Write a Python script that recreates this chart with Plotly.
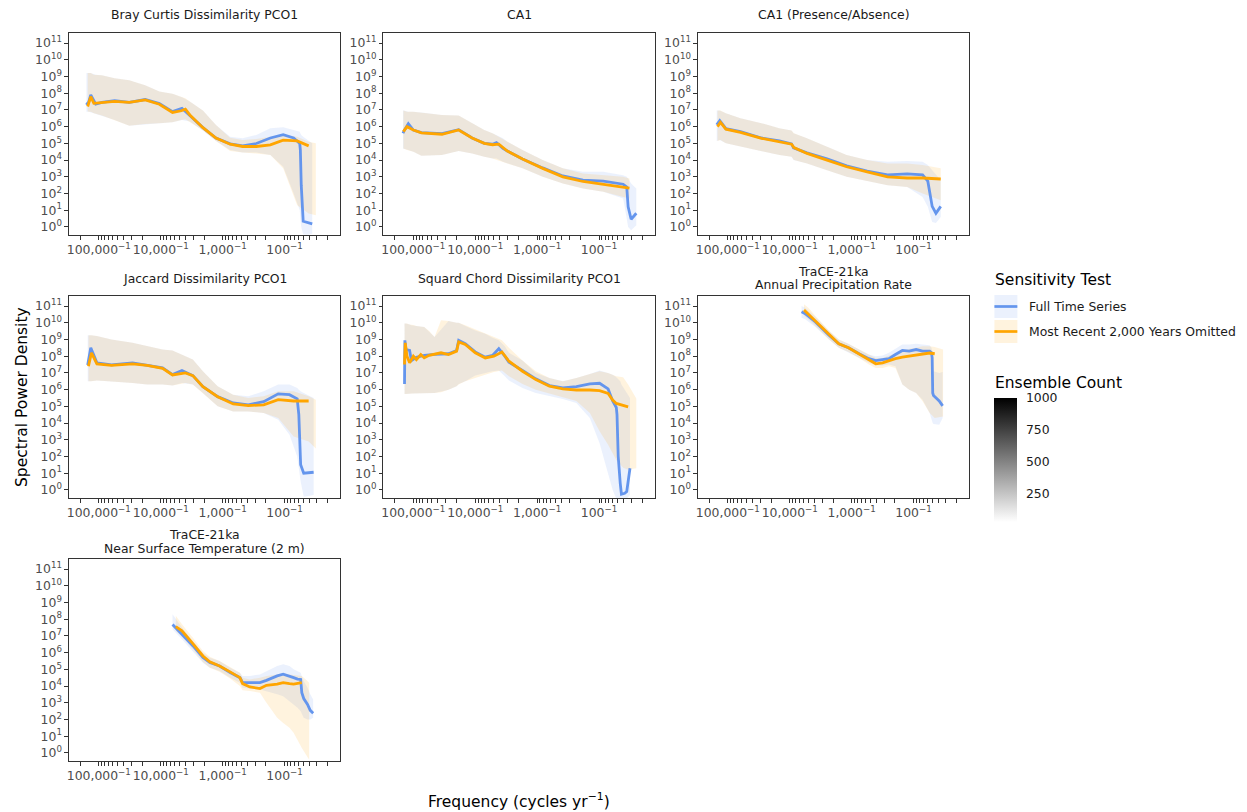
import plotly.graph_objects as go

# ---------------- data (frequency in cycles/yr, power spectral density) ----------------
# Panel 1: Bray Curtis Dissimilarity PCO1
BC_FULL_F = [6.3e-6, 6.9e-6, 7.4e-6, 8.9e-6, 1.12e-5, 1.8e-5, 3.1e-5, 5.6e-5, 9.5e-5, 1.55e-4, 2.2e-4, 2.95e-4, 4.8e-4, 7.8e-4, 1.32e-3, 2.1e-3, 3.5e-3, 5.9e-3, 9.5e-3, 1.4e-2, 1.76e-2, 1.8e-2, 1.86e-2, 2.0e-2, 2.4e-2, 2.8e-2]
BC_FULL_P = [2.0e7, 3.2e7, 7.9e7, 2.2e7, 2.8e7, 3.6e7, 2.8e7, 4.2e7, 2.4e7, 7.9e6, 1.26e7, 4.6e6, 8.7e5, 2.1e5, 9.3e4, 7.1e4, 9.8e4, 2.1e5, 3.3e5, 2.1e5, 9.8e4, 4.0e4, 316, 2.2, 1.8, 1.55]
BC_FULL_LO = [7.9e6, 7.9e6, 7.9e6, 6.3e6, 4.6e6, 2.5e6, 1.15e6, 1.45e6, 1.6e6, 1.8e6, 2.5e6, 2.0e6, 5.8e5, 1.4e5, 4.0e4, 2.8e4, 2.8e4, 2.0e4, 4.0e3, 100, 10, 3.2, 1.0, 0.35, 0.34, 0.4]
BC_FULL_HI = [1.6e9, 1.6e9, 1.6e9, 1.26e9, 1.2e9, 7.9e8, 5.9e8, 3.0e8, 1.26e8, 9.3e7, 5.8e7, 3.2e7, 9.1e6, 1.26e6, 2.5e5, 2.0e5, 3.2e5, 7.9e5, 9.1e5, 6.3e5, 5.0e5, 4.0e5, 3.2e5, 2.5e5, 1.6e5, 1.0e5]
BC_OMIT_F = [6.6e-6, 7.4e-6, 8.3e-6, 1.12e-5, 1.8e-5, 3.1e-5, 5.6e-5, 9.5e-5, 1.55e-4, 2.15e-4, 2.5e-4, 2.95e-4, 4.8e-4, 7.8e-4, 1.32e-3, 2.1e-3, 3.5e-3, 5.9e-3, 9.5e-3, 1.6e-2, 2.45e-2, 3.2e-2]
BC_OMIT_P = [1.6e7, 6.3e7, 2.5e7, 2.8e7, 3.2e7, 2.8e7, 4.0e7, 2.2e7, 7.1e6, 8.9e6, 1.12e7, 5.0e6, 8.7e5, 2.1e5, 8.9e4, 6.5e4, 6.5e4, 8.1e4, 1.55e5, 1.4e5, 7.1e4, None]
BC_OMIT_LO = [7.9e6, 7.9e6, 6.3e6, 4.6e6, 2.5e6, 1.15e6, 1.45e6, 1.6e6, 1.8e6, 2.5e6, 2.8e6, 2.0e6, 5.8e5, 1.4e5, 3.5e4, 2.8e4, 2.5e4, 2.0e4, 3.2e3, 20, 6.3, 5.0]
BC_OMIT_HI = [1.6e9, 1.6e9, 1.26e9, 1.2e9, 7.9e8, 5.9e8, 3.0e8, 1.26e8, 9.3e7, 6.3e7, 5.0e7, 3.2e7, 9.1e6, 1.26e6, 2.2e5, 1.6e5, 1.8e5, 2.5e5, 3.2e5, 2.5e5, 1.26e5, 1.0e5]

# Panel 2: CA1
CA1_FULL_F = [6.8e-6, 7.1e-6, 8.3e-6, 1.0e-5, 1.35e-5, 2.9e-5, 5.4e-5, 8.9e-5, 1.4e-4, 1.9e-4, 2.2e-4, 2.8e-4, 3.3e-4, 5.8e-4, 1.23e-3, 2.6e-3, 5.5e-3, 1.17e-2, 2.45e-2, 2.8e-2, 2.95e-2, 3.3e-2, 4.0e-2]
CA1_FULL_P = [4.0e5, 5.8e5, 1.5e6, 6.3e5, 4.4e5, 3.8e5, 6.6e5, 2.1e5, 1.0e5, 8.9e4, 1.12e5, 5.0e4, 3.5e4, 1.17e4, 3.4e3, 1.12e3, 630, 550, 360, 250, 16, 2.9, 6.6]
CA1_FULL_LO = [5.0e4, 4.7e4, 4.0e4, 3.2e4, 1.8e4, 2.0e4, 3.5e4, 2.5e4, 1.6e4, 1.26e4, 1.26e4, 7.9e3, 6.3e3, 3.2e3, 1.0e3, 400, 200, 126, 50, 3.2, 1.0, 0.63, 1.26]
CA1_FULL_HI = [9.1e6, 9.1e6, 7.9e6, 7.9e6, 6.9e6, 5.0e6, 4.6e6, 1.6e6, 6.3e5, 4.0e5, 3.2e5, 2.0e5, 1.26e5, 4.0e4, 1.0e4, 3.2e3, 2.0e3, 2.0e3, 1.26e3, 1.0e3, 790, 400, 200]
CA1_OMIT_F = [6.9e-6, 7.9e-6, 1.0e-5, 1.35e-5, 2.9e-5, 5.4e-5, 8.9e-5, 1.4e-4, 1.9e-4, 2.4e-4, 3.3e-4, 5.8e-4, 1.23e-3, 2.6e-3, 5.5e-3, 1.17e-2, 2.45e-2, 3.1e-2]
CA1_OMIT_P = [5.0e5, 1.0e6, 6.3e5, 4.2e5, 3.5e5, 6.3e5, 2.1e5, 1.0e5, 8.3e4, 8.9e4, 3.5e4, 1.17e4, 3.2e3, 1.0e3, 525, 363, 240, 210]
CA1_OMIT_LO = [5.0e4, 4.0e4, 3.2e4, 1.8e4, 2.0e4, 3.5e4, 2.5e4, 1.6e4, 1.26e4, 1.0e4, 6.3e3, 3.2e3, 1.0e3, 400, 200, 126, 63, 50]
CA1_OMIT_HI = [9.1e6, 7.9e6, 7.9e6, 6.9e6, 5.0e6, 4.6e6, 1.6e6, 6.3e5, 4.0e5, 2.5e5, 1.26e5, 4.0e4, 1.0e4, 3.2e3, 1.6e3, 1.26e3, 1.0e3, 790]

# Panel 3: CA1 (Presence/Absence)
CAPA_FULL_F = [6.6e-6, 7.4e-6, 9.3e-6, 1.6e-5, 3.5e-5, 6.8e-5, 1.07e-4, 1.15e-4, 1.9e-4, 4.0e-4, 8.3e-4, 1.78e-3, 3.8e-3, 7.9e-3, 1.4e-2, 1.7e-2, 2.0e-2, 2.3e-2, 2.75e-2]
CAPA_FULL_P = [1.3e6, 2.3e6, 7.6e5, 5.0e5, 2.1e5, 1.4e5, 9.3e4, 5.4e4, 2.7e4, 1.17e4, 4.5e3, 2.2e3, 1.3e3, 1.5e3, 1.3e3, 550, 17, 6.6, 17]
CAPA_FULL_LO = [1.4e5, 1.6e5, 1.0e5, 6.3e4, 3.5e4, 2.0e4, 1.6e4, 1.0e4, 6.3e3, 2.5e3, 1.0e3, 550, 316, 250, 63, 16, 2.0, 1.7, 4.0]
CAPA_FULL_HI = [9.1e6, 9.1e6, 6.3e6, 3.2e6, 1.6e6, 7.9e5, 5.8e5, 4.0e5, 2.0e5, 6.3e4, 2.0e4, 1.0e4, 7.9e3, 8.9e3, 7.9e3, 5.0e3, 2.5e3, 1.26e3, 630]
CAPA_OMIT_F = [6.8e-6, 7.6e-6, 9.3e-6, 1.6e-5, 3.5e-5, 6.8e-5, 1.07e-4, 1.17e-4, 1.9e-4, 4.0e-4, 8.3e-4, 1.78e-3, 3.8e-3, 7.9e-3, 1.4e-2, 2.75e-2]
CAPA_OMIT_P = [1.0e6, 1.8e6, 7.1e5, 4.5e5, 2.0e5, 1.3e5, 8.9e4, 5.6e4, 2.5e4, 1.0e4, 4.0e3, 2.0e3, 1.0e3, 850, 850, 740]
CAPA_OMIT_LO = [1.4e5, 1.6e5, 1.0e5, 6.3e4, 3.5e4, 2.0e4, 1.6e4, 1.0e4, 6.3e3, 2.5e3, 1.0e3, 550, 316, 250, 100, 40]
CAPA_OMIT_HI = [9.1e6, 9.1e6, 6.3e6, 3.2e6, 1.6e6, 7.9e5, 5.8e5, 4.0e5, 2.0e5, 6.3e4, 2.0e4, 1.0e4, 6.3e3, 6.3e3, 5.0e3, 3.2e3]

# Panel 4: Jaccard Dissimilarity PCO1
JAC_FULL_F = [6.6e-6, 7.4e-6, 9.3e-6, 1.6e-5, 3.5e-5, 6.0e-5, 1.07e-4, 1.55e-4, 2.2e-4, 3.3e-4, 4.8e-4, 8.3e-4, 1.48e-3, 2.6e-3, 4.6e-3, 7.9e-3, 1.2e-2, 1.6e-2, 1.7e-2, 1.82e-2, 2.04e-2, 2.95e-2]
JAC_FULL_P = [3.0e7, 3.2e8, 4.0e7, 3.0e7, 4.0e7, 3.0e7, 2.0e7, 7.9e6, 1.4e7, 6.9e6, 1.5e6, 3.8e5, 1.6e5, 1.23e5, 1.9e5, 5.6e5, 5.0e5, 2.8e5, 3.2e4, 32, 10, 11.5]
JAC_FULL_LO = [3.2e6, 3.2e6, 3.5e6, 3.2e6, 2.5e6, 2.0e6, 2.0e6, 1.74e6, 2.5e6, 2.0e6, 6.3e5, 1.0e5, 5.0e4, 5.0e4, 4.0e4, 1.6e4, 2.0e3, 100, 32, 3.2, 0.4, 0.5]
JAC_FULL_HI = [1.8e9, 1.8e9, 1.6e9, 1.0e9, 6.3e8, 4.0e8, 2.5e8, 2.2e8, 1.26e8, 6.3e7, 1.26e7, 1.6e6, 5.0e5, 4.0e5, 7.9e5, 2.0e6, 2.0e6, 1.26e6, 1.0e6, 7.9e5, 6.3e5, 3.2e5]
JAC_OMIT_F = [6.8e-6, 7.6e-6, 9.3e-6, 1.6e-5, 3.5e-5, 6.0e-5, 1.07e-4, 1.55e-4, 2.5e-4, 3.3e-4, 4.8e-4, 8.3e-4, 1.48e-3, 2.6e-3, 4.6e-3, 7.9e-3, 1.4e-2, 2.45e-2, 3.2e-2]
JAC_OMIT_P = [2.5e7, 1.6e8, 3.5e7, 2.8e7, 3.5e7, 2.8e7, 1.9e7, 7.6e6, 1.0e7, 6.9e6, 1.5e6, 3.8e5, 1.4e5, 1.12e5, 1.23e5, 2.5e5, 2.1e5, 2.1e5, None]
JAC_OMIT_LO = [3.2e6, 3.2e6, 3.5e6, 3.2e6, 2.5e6, 2.0e6, 2.0e6, 1.74e6, 2.5e6, 2.0e6, 6.3e5, 1.0e5, 5.0e4, 5.0e4, 4.0e4, 2.0e4, 1.6e3, 800, 300]
JAC_OMIT_HI = [1.8e9, 1.8e9, 1.6e9, 1.0e9, 6.3e8, 4.0e8, 2.5e8, 2.2e8, 1.0e8, 6.3e7, 1.26e7, 1.6e6, 5.0e5, 3.2e5, 4.0e5, 7.9e5, 7.9e5, 4.0e5, 2.5e5]

# Panel 5: Squard Chord Dissimilarity PCO1
SC_FULL_F = [7.2e-6, 7.3e-6, 7.6e-6, 8.7e-6, 9.3e-6, 1.12e-5, 1.5e-5, 2.2e-5, 3.7e-5, 5.0e-5, 5.4e-5, 6.9e-5, 1.0e-4, 1.45e-4, 1.9e-4, 2.4e-4, 3.0e-4, 3.5e-4, 5.8e-4, 9.5e-4, 1.58e-3, 2.6e-3, 4.3e-3, 7.1e-3, 1.02e-2, 1.4e-2, 1.66e-2, 1.9e-2, 1.95e-2, 2.04e-2, 2.2e-2, 2.3e-2, 2.6e-2, 2.8e-2, 3.16e-2]
SC_FULL_P = [2.2e6, 8.9e8, 2.5e8, 2.2e8, 5.5e7, 8.7e7, 1.12e8, 1.3e8, 1.4e8, 2.2e8, 8.9e8, 5.6e8, 1.8e8, 8.7e7, 1.12e8, 2.8e8, 1.0e8, 4.4e7, 1.4e7, 4.4e6, 1.74e6, 1.26e6, 1.5e6, 2.2e6, 2.4e6, 1.1e6, 2.1e5, 8.5e4, 3.2e4, 100, 2.5, 0.56, 0.63, 0.81, 20]
SC_FULL_LO = [5.5e5, 5.5e5, 5.5e5, 5.6e5, 5.8e5, 6.0e5, 6.3e5, 6.3e5, 1.0e6, 1.6e6, 2.2e6, 3.2e6, 6.9e6, 1.0e7, 1.26e7, 1.4e7, 6.3e6, 3.5e6, 1.26e6, 6.3e5, 4.0e5, 2.8e5, 1.6e5, 2.0e4, 630, 10, 1.0, 0.3, 0.3, 0.3, 0.3, 0.3, 0.3, 0.3, 0.5]
SC_FULL_HI = [9.1e9, 9.1e9, 9.1e9, 7.9e9, 7.1e9, 6.3e9, 5.6e9, 1.4e9, 1.26e10, 1.0e10, 1.0e10, 6.3e9, 3.5e9, 2.2e9, 1.26e9, 8.9e8, 4.0e8, 1.6e8, 5.5e7, 1.0e7, 5.0e6, 3.2e6, 5.0e6, 8.7e6, 1.4e7, 1.0e7, 7.9e6, 5.5e6, 5.0e6, 4.0e6, 3.2e6, 2.0e6, 1.0e6, 6.3e5, 3.2e5]
SC_OMIT_F = [7.2e-6, 7.4e-6, 7.9e-6, 8.7e-6, 1.0e-5, 1.12e-5, 1.32e-5, 1.5e-5, 1.8e-5, 2.2e-5, 2.8e-5, 3.7e-5, 5.0e-5, 5.4e-5, 6.9e-5, 1.0e-4, 1.45e-4, 2.0e-4, 2.7e-4, 3.5e-4, 5.8e-4, 9.5e-4, 1.58e-3, 2.6e-3, 4.3e-3, 7.1e-3, 1.02e-2, 1.4e-2, 1.66e-2, 1.9e-2, 2.45e-2, 2.95e-2, 4.0e-2]
SC_OMIT_P = [3.2e7, 6.3e8, 1.0e8, 4.0e7, 1.0e8, 6.3e7, 1.26e8, 7.9e7, 1.12e8, 1.26e8, 1.6e8, 1.26e8, 2.0e8, 7.1e8, 5.0e8, 1.6e8, 7.9e7, 1.0e8, 1.8e8, 5.0e7, 1.26e7, 4.0e6, 1.6e6, 1.12e6, 9.5e5, 9.5e5, 8.7e5, 6.0e5, 2.4e5, 1.5e5, 1.07e5, 9.3e4, None]
SC_OMIT_LO = [5.5e5, 5.5e5, 5.5e5, 5.6e5, 5.8e5, 6.0e5, 6.2e5, 6.3e5, 6.3e5, 6.3e5, 7.1e5, 1.0e6, 1.6e6, 2.0e6, 3.2e6, 5.0e6, 7.9e6, 1.12e7, 1.4e7, 6.3e6, 2.2e6, 1.0e6, 5.6e5, 3.5e5, 2.1e5, 4.0e4, 3.2e3, 500, 160, 63, 21, 16, 20]
SC_OMIT_HI = [9.1e9, 9.1e9, 9.1e9, 7.9e9, 7.4e9, 6.3e9, 6.0e9, 5.6e9, 3.2e9, 1.4e9, 1.4e10, 1.26e10, 1.0e10, 1.0e10, 7.1e9, 4.0e9, 2.2e9, 1.4e9, 8.9e8, 3.2e8, 5.5e7, 1.26e7, 5.0e6, 3.2e6, 5.0e6, 8.7e6, 1.26e7, 1.0e7, 7.9e6, 6.3e6, 5.5e6, 2.0e6, 3.0e5]

# Panel 6: TraCE-21ka Annual Precipitation Rate
PRE_FULL_F = [1.55e-4, 1.78e-4, 2.6e-4, 4.3e-4, 6.2e-4, 8.9e-4, 1.32e-3, 1.9e-3, 2.45e-3, 3.16e-3, 4.0e-3, 5.1e-3, 6.6e-3, 8.5e-3, 1.1e-2, 1.4e-2, 1.82e-2, 1.95e-2, 2.0e-2, 2.04e-2, 2.1e-2, 2.6e-2, 2.95e-2]
PRE_FULL_P = [4.5e10, 3.5e10, 1.12e10, 1.8e9, 5.6e8, 3.2e8, 1.4e8, 7.1e7, 5.5e7, 6.0e7, 7.1e7, 1.26e8, 2.2e8, 2.0e8, 2.5e8, 2.0e8, 2.0e8, 1.6e8, 7.9e7, 6.3e5, 4.5e5, 2.1e5, 1.07e5]
PRE_FULL_LO = [2.0e10, 1.6e10, 5.6e9, 1.0e9, 3.2e8, 1.8e8, 7.9e7, 4.0e7, 2.8e7, 2.8e7, 3.2e7, 2.5e7, 2.0e6, 1.0e6, 6.3e5, 2.5e5, 4.0e4, 1.6e4, 1.26e4, 1.0e4, 8.9e3, 7.9e3, 2.0e4]
PRE_FULL_HI = [1.0e11, 7.9e10, 2.2e10, 3.2e9, 1.0e9, 5.6e8, 2.5e8, 1.26e8, 1.0e8, 1.12e8, 1.6e8, 2.8e8, 5.0e8, 5.0e8, 5.6e8, 5.0e8, 4.5e8, 3.2e8, 2.0e8, 2.0e7, 1.26e7, 1.0e7, 1.12e7]
PRE_OMIT_F = [1.7e-4, 2.0e-4, 2.6e-4, 4.3e-4, 6.2e-4, 8.9e-4, 1.32e-3, 1.9e-3, 2.45e-3, 3.16e-3, 4.0e-3, 5.1e-3, 6.6e-3, 8.5e-3, 1.1e-2, 1.4e-2, 1.82e-2, 2.2e-2, 3.0e-2]
PRE_OMIT_P = [5.8e10, 3.2e10, 1.26e10, 2.0e9, 5.6e8, 3.2e8, 1.4e8, 6.3e7, 3.5e7, 4.0e7, 5.6e7, 7.1e7, 8.9e7, 1.0e8, 1.12e8, 1.26e8, 1.55e8, 1.4e8, None]
PRE_OMIT_LO = [2.5e10, 1.6e10, 6.3e9, 1.0e9, 3.2e8, 1.8e8, 7.9e7, 3.2e7, 2.0e7, 2.0e7, 2.5e7, 2.0e7, 2.0e6, 1.0e6, 6.3e5, 2.0e5, 4.0e4, 2.0e4, 2.5e4]
PRE_OMIT_HI = [1.26e11, 7.9e10, 2.5e10, 3.5e9, 1.0e9, 5.6e8, 2.5e8, 1.26e8, 7.9e7, 7.9e7, 1.12e8, 1.4e8, 2.0e8, 2.8e8, 3.2e8, 4.0e8, 4.0e8, 3.5e8, 2.5e8]

# Panel 7: TraCE-21ka Near Surface Temperature (2 m)
TMP_FULL_F = [1.55e-4, 2.2e-4, 3.3e-4, 4.8e-4, 6.2e-4, 8.9e-4, 1.32e-3, 1.9e-3, 2.1e-3, 2.75e-3, 4.0e-3, 5.1e-3, 7.6e-3, 9.5e-3, 1.2e-2, 1.4e-2, 1.62e-2, 1.82e-2, 1.9e-2, 2.04e-2, 2.35e-2, 2.6e-2, 2.9e-2]
TMP_FULL_P = [4.8e7, 1.3e7, 2.6e6, 5.1e5, 2.6e5, 1.6e5, 6.5e4, 3.2e4, 1.6e4, 1.6e4, 1.6e4, 2.2e4, 4.1e4, 5.1e4, 4.0e4, 3.2e4, 2.6e4, 2.5e4, 4.0e3, 1.8e3, 800, 355, 240]
TMP_FULL_LO = [2.5e7, 6.3e6, 1.26e6, 2.5e5, 1.26e5, 7.9e4, 3.2e4, 1.6e4, 7.9e3, 7.1e3, 6.3e3, 5.0e3, 3.2e3, 2.5e3, 1.26e3, 790, 500, 316, 200, 126, 100, 100, 126]
TMP_FULL_HI = [2.0e8, 3.2e7, 5.0e6, 1.0e6, 5.0e5, 3.2e5, 1.26e5, 6.3e4, 4.0e4, 4.0e4, 5.0e4, 7.9e4, 1.6e5, 2.0e5, 1.6e5, 1.0e5, 7.9e4, 6.3e4, 4.0e4, 2.0e4, 7.9e3, 3.2e3, 1.6e3]
TMP_OMIT_F = [1.75e-4, 2.2e-4, 3.3e-4, 4.8e-4, 6.2e-4, 8.9e-4, 1.32e-3, 1.9e-3, 2.1e-3, 2.75e-3, 4.0e-3, 5.1e-3, 7.6e-3, 9.5e-3, 1.2e-2, 1.4e-2, 1.9e-2, 2.2e-2, 2.5e-2]
TMP_OMIT_P = [3.6e7, 2.0e7, 3.5e6, 6.3e5, 2.8e5, 1.6e5, 7.1e4, 3.2e4, 1.4e4, 8.9e3, 7.1e3, 1.12e4, 1.3e4, 1.6e4, 1.4e4, 1.3e4, 1.6e4, None, None]
TMP_OMIT_LO = [2.0e7, 8.9e6, 1.6e6, 2.8e5, 1.26e5, 7.1e4, 2.8e4, 1.0e4, 5.6e3, 5.0e3, 4.0e3, 1.0e3, 126, 63, 32, 16, 2.0, 0.8, 0.4]
TMP_OMIT_HI = [1.6e8, 5.0e7, 7.9e6, 1.26e6, 5.6e5, 3.2e5, 1.4e5, 6.3e4, 3.2e4, 2.5e4, 3.2e4, 4.0e4, 5.0e4, 5.6e4, 5.0e4, 4.5e4, 4.0e4, 2.5e4, 1.6e4]

PANEL_TITLES = [
    ["Bray Curtis Dissimilarity PCO1"],
    ["CA1"],
    ["CA1 (Presence/Absence)"],
    ["Jaccard Dissimilarity PCO1"],
    ["Squard Chord Dissimilarity PCO1"],
    ["TraCE-21ka", "Annual Precipitation Rate"],
    ["TraCE-21ka", "Near Surface Temperature (2 m)"],
]
SERIES_NAMES = ["Full Time Series", "Most Recent 2,000 Years Omitted"]
MAJOR_PERIODS = [100000, 10000, 1000, 100]
MAJOR_LABELS = ["100,000<sup>−1</sup>", "10,000<sup>−1</sup>", "1,000<sup>−1</sup>", "100<sup>−1</sup>"]
Y_EXPONENTS = list(range(0, 12))
COUNT_TICKS = [250, 500, 750, 1000]
COUNT_RANGE = [27, 1000]

# ---------------- layout geometry (pixels) ----------------
W, H = 1247, 812
COL_X = [67, 382, 697]
ROW_Y = [33, 296, 559]
PW, PH = 272, 202
XRANGE = [-5.484, -1.097]
YRANGE = [-0.48, 11.6]

BLUE = "#6495ED"
ORANGE = "#FFA500"
BLUE_FILL = "rgba(100,149,237,0.13)"
ORANGE_FILL = "rgba(255,165,0,0.13)"
FONT = "DejaVu Sans"
BORDER = "#333333"

def px_x(x):
    return x / W

def px_y(y):
    return 1 - y / H

panels = [
    (BC_FULL_F, BC_FULL_P, BC_FULL_LO, BC_FULL_HI, BC_OMIT_F, BC_OMIT_P, BC_OMIT_LO, BC_OMIT_HI),
    (CA1_FULL_F, CA1_FULL_P, CA1_FULL_LO, CA1_FULL_HI, CA1_OMIT_F, CA1_OMIT_P, CA1_OMIT_LO, CA1_OMIT_HI),
    (CAPA_FULL_F, CAPA_FULL_P, CAPA_FULL_LO, CAPA_FULL_HI, CAPA_OMIT_F, CAPA_OMIT_P, CAPA_OMIT_LO, CAPA_OMIT_HI),
    (JAC_FULL_F, JAC_FULL_P, JAC_FULL_LO, JAC_FULL_HI, JAC_OMIT_F, JAC_OMIT_P, JAC_OMIT_LO, JAC_OMIT_HI),
    (SC_FULL_F, SC_FULL_P, SC_FULL_LO, SC_FULL_HI, SC_OMIT_F, SC_OMIT_P, SC_OMIT_LO, SC_OMIT_HI),
    (PRE_FULL_F, PRE_FULL_P, PRE_FULL_LO, PRE_FULL_HI, PRE_OMIT_F, PRE_OMIT_P, PRE_OMIT_LO, PRE_OMIT_HI),
    (TMP_FULL_F, TMP_FULL_P, TMP_FULL_LO, TMP_FULL_HI, TMP_OMIT_F, TMP_OMIT_P, TMP_OMIT_LO, TMP_OMIT_HI),
]

# tick positions
minor_periods = []
for dec in [10, 100, 1000, 10000, 100000]:
    for k in range(2, 10):
        p = k * dec
        if p <= 200000:
            minor_periods.append(p)
x_major_vals = [1.0 / p for p in MAJOR_PERIODS]
x_minor_vals = [1.0 / p for p in minor_periods]
y_tickvals = [10.0 ** e for e in Y_EXPONENTS]
y_ticktext = ["10<sup>%d</sup>" % e for e in Y_EXPONENTS]

fig = go.Figure()
layout = dict(
    width=W, height=H, margin=dict(l=0, r=0, t=0, b=0),
    paper_bgcolor="white", plot_bgcolor="white", showlegend=False,
    font=dict(family=FONT, color="#1a1a1a"),
)
annotations = []
shapes = []

for i, data in enumerate(panels):
    idx = i + 1
    col, row = i % 3, i // 3
    x0 = COL_X[col]
    y0 = ROW_Y[row]
    xa = "x" if idx == 1 else "x%d" % idx
    ya = "y" if idx == 1 else "y%d" % idx
    fF, fP, fL, fH, oF, oP, oL, oH = data
    for f, lo, hi, fc in [(fF, fL, fH, BLUE_FILL), (oF, oL, oH, ORANGE_FILL)]:
        fig.add_trace(go.Scatter(
            x=list(f) + list(f)[::-1], y=list(hi) + list(lo)[::-1],
            mode="lines", line=dict(width=0), fill="toself", fillcolor=fc,
            hoverinfo="skip", xaxis=xa, yaxis=ya))
    for f, p, c in [(fF, fP, BLUE), (oF, oP, ORANGE)]:
        fig.add_trace(go.Scatter(
            x=f, y=p, mode="lines", line=dict(color=c, width=2.8),
            connectgaps=False, xaxis=xa, yaxis=ya))
    xkey = "xaxis" if idx == 1 else "xaxis%d" % idx
    ykey = "yaxis" if idx == 1 else "yaxis%d" % idx
    layout[xkey] = dict(
        domain=[px_x(x0), px_x(x0 + PW)], anchor=ya, type="log", range=XRANGE,
        tickmode="array", tickvals=x_major_vals, ticktext=MAJOR_LABELS, tickangle=0,
        ticks="outside", ticklen=3.5, tickwidth=1, tickcolor=BORDER,
        minor=dict(tickmode="array", tickvals=x_minor_vals, ticks="outside",
                   ticklen=3.5, tickwidth=1, tickcolor=BORDER, showgrid=False),
        showline=True, linecolor=BORDER, linewidth=1, mirror=True,
        showgrid=False, zeroline=False,
        tickfont=dict(family=FONT, size=12.4, color="#4d4d4d"))
    layout[ykey] = dict(
        domain=[px_y(y0 + PH), px_y(y0)], anchor=xa, type="log", range=YRANGE,
        tickmode="array", tickvals=y_tickvals, ticktext=y_ticktext,
        ticks="outside", ticklen=3.5, tickwidth=1, tickcolor=BORDER,
        showline=True, linecolor=BORDER, linewidth=1, mirror=True,
        showgrid=False, zeroline=False,
        tickfont=dict(family=FONT, size=12.4, color="#4d4d4d"))
    # strip titles
    lines = PANEL_TITLES[i]
    cx = px_x(x0 + PW / 2)
    if len(lines) == 1:
        ys = [y0 - 18]
    else:
        ys = [y0 - 25, y0 - 11]
    for t, yy in zip(lines, ys):
        annotations.append(dict(text=t, x=cx, y=px_y(yy), xref="paper", yref="paper",
                                xanchor="center", yanchor="middle", showarrow=False,
                                font=dict(family=FONT, size=12.4, color="#1a1a1a")))

# colorbar for ensemble count (dummy point outside visible range)
fig.add_trace(go.Scatter(
    x=[1e-9, 1e-9], y=[1e5, 1e5], mode="markers", xaxis="x", yaxis="y",
    marker=dict(color=COUNT_RANGE, cmin=COUNT_RANGE[0], cmax=COUNT_RANGE[1],
                colorscale=[[0, "#ffffff"], [1, "#000000"]], showscale=True, size=1,
                colorbar=dict(x=px_x(994), xanchor="left", y=px_y(398), yanchor="top",
                              len=124, lenmode="pixels", thickness=23, thicknessmode="pixels",
                              xpad=0, ypad=0, outlinewidth=0,
                              tickmode="array", tickvals=COUNT_TICKS,
                              ticks="outside", ticklen=7, tickcolor="white",
                              tickfont=dict(family=FONT, size=12.4, color="#1a1a1a"))),
    hoverinfo="skip"))

# axis titles
annotations.append(dict(text="Frequency (cycles yr<sup>−1</sup>)", x=px_x(518), y=px_y(800),
                        xref="paper", yref="paper", xanchor="center", yanchor="middle",
                        showarrow=False, font=dict(family=FONT, size=15.5, color="#000000")))
annotations.append(dict(text="Spectral Power Density", x=px_x(20), y=px_y(397),
                        xref="paper", yref="paper", xanchor="center", yanchor="middle",
                        textangle=-90, showarrow=False,
                        font=dict(family=FONT, size=15.5, color="#000000")))

# manual legend
annotations.append(dict(text="Sensitivity Test", x=px_x(993), y=px_y(280), xref="paper", yref="paper",
                        xanchor="left", yanchor="middle", showarrow=False,
                        font=dict(family=FONT, size=15.5, color="#000000")))
annotations.append(dict(text="Ensemble Count", x=px_x(993), y=px_y(383), xref="paper", yref="paper",
                        xanchor="left", yanchor="middle", showarrow=False,
                        font=dict(family=FONT, size=15.5, color="#000000")))
key_rows = [(295, 318, BLUE, "rgba(100,149,237,0.13)"), (320, 343, ORANGE, "rgba(255,165,0,0.13)")]
for (ky0, ky1, lc, fc), name in zip(key_rows, SERIES_NAMES):
    shapes.append(dict(type="rect", xref="paper", yref="paper",
                       x0=px_x(994), x1=px_x(1017), y0=px_y(ky1), y1=px_y(ky0),
                       fillcolor=fc, line=dict(width=0), layer="above"))
    ym = (ky0 + ky1) / 2
    shapes.append(dict(type="line", xref="paper", yref="paper",
                       x0=px_x(994), x1=px_x(1017), y0=px_y(ym), y1=px_y(ym),
                       line=dict(color=lc, width=2.7), layer="above"))
    annotations.append(dict(text=name, x=px_x(1027), y=px_y(ym), xref="paper", yref="paper",
                            xanchor="left", yanchor="middle", showarrow=False,
                            font=dict(family=FONT, size=12.4, color="#1a1a1a")))

layout["annotations"] = annotations
layout["shapes"] = shapes
fig.update_layout(**layout)

fig.write_html("out.html", config={"displayModeBar": False},
               post_script="document.body.style.margin='0';")
